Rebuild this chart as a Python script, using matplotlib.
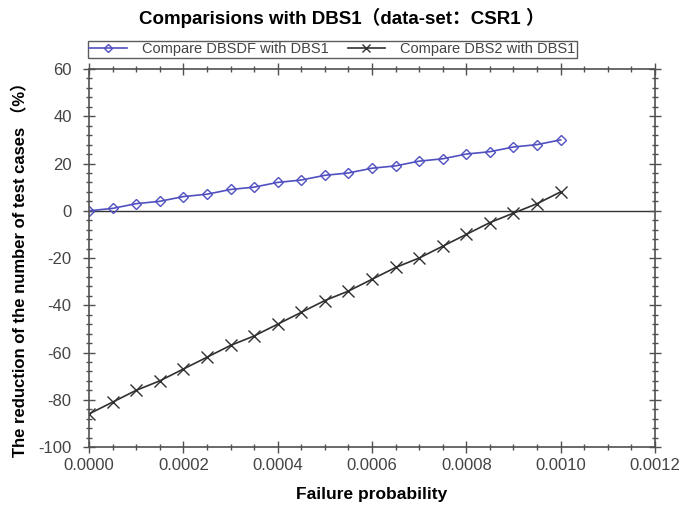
import matplotlib

matplotlib.use("Agg")
import matplotlib.pyplot as plt
from matplotlib.ticker import MultipleLocator

plt.rcParams["font.family"] = ["Liberation Sans", "Noto Sans CJK SC", "DejaVu Sans"]
plt.rcParams["axes.unicode_minus"] = False

# failure probability, step 0.00005
failure_prob = [i * 0.00005 for i in range(21)]
dbsdf_vs_dbs1 = [0, 1, 3, 4, 6, 7, 9, 10, 12, 13, 15, 16, 18, 19, 21, 22, 24, 25, 27, 28, 30]
dbs2_vs_dbs1 = [-86, -81, -76, -72, -67, -62, -57, -53, -48, -43, -38, -34, -29, -24, -20,
                -15, -10, -5, -1, 3, 8]

BLUE = "#5050c0"
GREY = "#505050"

fig = plt.figure(figsize=(6.81, 5.07), dpi=100)
ax = fig.add_axes([0.1307, 0.1183, 0.8311, 0.7456])

ax.axhline(0, color="#333333", lw=1.0, zorder=1)
ax.plot(failure_prob, dbsdf_vs_dbs1, color=BLUE, lw=1.2, marker="D", ms=5,
        mfc="none", mec=BLUE, mew=1.0, label="Compare DBSDF with DBS1")
ax.plot(failure_prob, dbs2_vs_dbs1, color="#303030", lw=1.2, marker="x", ms=8,
        mew=1.0, label="Compare DBS2 with DBS1")

ax.set_xlim(0, 0.0012)
ax.set_ylim(-100, 60)
ax.xaxis.set_major_locator(MultipleLocator(0.0002))
ax.xaxis.set_minor_locator(MultipleLocator(0.00005))
ax.yaxis.set_major_locator(MultipleLocator(20))
ax.yaxis.set_minor_locator(MultipleLocator(4))
ax.xaxis.set_major_formatter(lambda v, pos: f"{v:.4f}")
ax.tick_params(which="both", direction="inout", top=True, right=True,
               colors=GREY, labelcolor="#444444", labelsize=12)
ax.tick_params(which="major", length=9, width=1.0)
ax.tick_params(which="minor", length=5, width=1.0)
ax.tick_params(axis="y", which="major", pad=8)
for s in ax.spines.values():
    s.set_color(GREY)
    s.set_linewidth(1.2)

ax.set_xlabel("Failure probability", fontsize=12.5, fontweight="bold", labelpad=10)
ax.set_ylabel("The reduction of the number of test cases （%）", fontsize=12,
              fontweight="bold")
ax.yaxis.set_label_coords(-0.107, 0.48)
fig.suptitle("Comparisions with DBS1（data-set：CSR1 ）", x=0.502, y=0.985,
             fontsize=13.5, fontweight="bold")

leg = ax.legend(loc="lower left", bbox_to_anchor=(-0.002, 1.03), ncol=2,
                fontsize=10.5, frameon=True, fancybox=False, markerscale=0.75,
                borderpad=0.1, handlelength=2.6, columnspacing=1.3,
                handletextpad=1.0, borderaxespad=0)
leg.get_frame().set_edgecolor("#333333")
leg.get_frame().set_linewidth(1.0)
for t in leg.get_texts():
    t.set_color("#444444")

fig.savefig("out.png", dpi=100)
